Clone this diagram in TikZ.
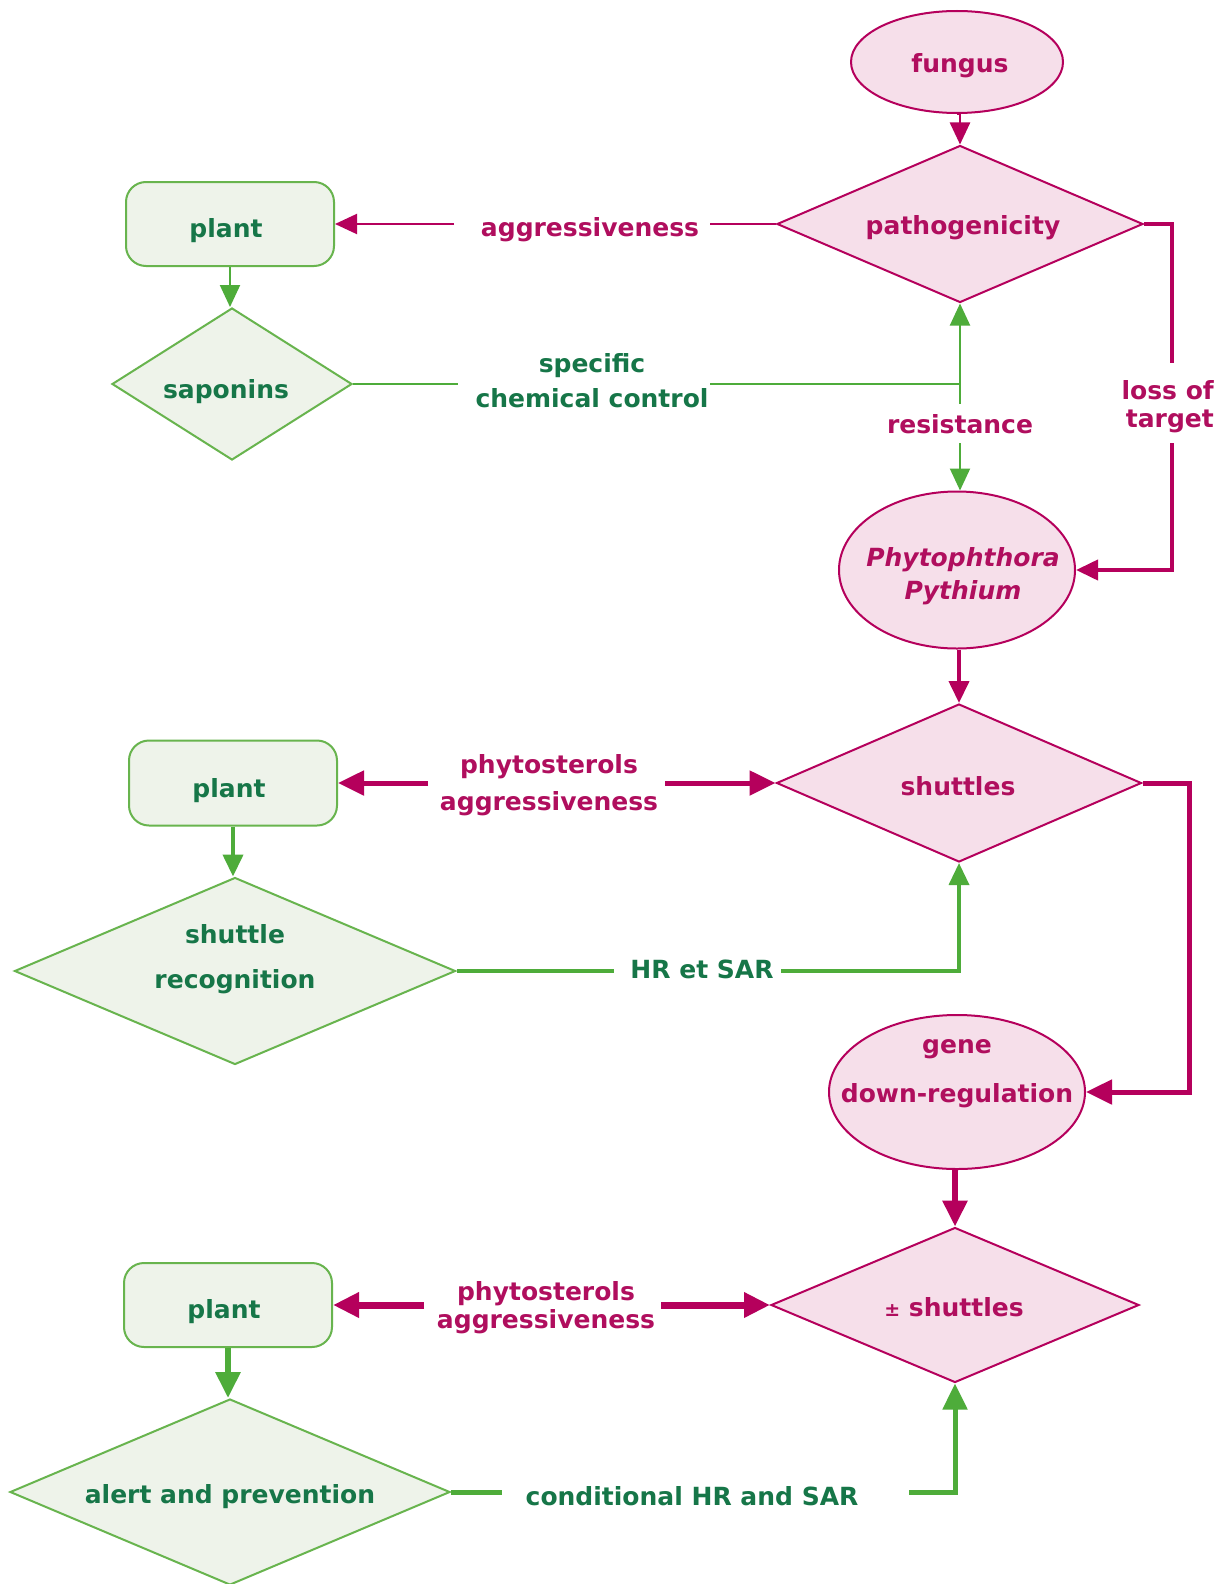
\documentclass[tikz,border=0pt]{standalone}
\usepackage{fontspec}
\setmainfont{DejaVu Sans}
\usetikzlibrary{shapes.geometric,arrows.meta}
\definecolor{magline}{RGB}{181,0,92}
\definecolor{magtext}{RGB}{176,14,94}
\definecolor{pinkfill}{RGB}{246,223,234}
\definecolor{grline}{RGB}{78,172,58}
\definecolor{grborder}{RGB}{104,180,78}
\definecolor{grfill}{RGB}{238,243,234}
\definecolor{grtext}{RGB}{22,118,72}
\newcommand{\tstrut}{\rule[-6pt]{0pt}{25pt}}
\tikzset{
  mshape/.style={draw=magline, fill=pinkfill, line width=2pt, inner sep=0pt},
  gshape/.style={draw=grborder, fill=grfill, line width=2pt, inner sep=0pt},
  mell/.style={mshape, ellipse},
  mdia/.style={mshape, diamond},
  gdia/.style={gshape, diamond},
  gbox/.style={gshape, rectangle, rounded corners=20pt, minimum width=208pt, minimum height=84pt},
  mtxt/.style={text=magtext, inner sep=0pt, align=center},
  gtxt/.style={text=grtext, inner sep=0pt, align=center},
  mline/.style={draw=magline},
  gline/.style={draw=grline},
  marr/.style={mline, -{Triangle[length=22pt,width=20pt]}},
  garr/.style={gline, -{Triangle[length=22pt,width=20pt]}},
  bigmarr/.style={mline, -{Triangle[length=26pt,width=24pt]}},
  biggarr/.style={gline, -{Triangle[length=26pt,width=24pt]}},
}
\begin{document}
\begin{tikzpicture}[x=1pt,y=-1pt, font=\bfseries\fontsize{25}{30}\selectfont]
\useasboundingbox[fill=white] (0,0) rectangle (1231,1584);
% ---------- shapes ----------
\node[mell, minimum width=212pt, minimum height=102pt] (fungus) at (957,62) {};
\node[mdia, minimum width=366pt, minimum height=157pt] (patho) at (960,224) {};
\node[gbox] (plant1) at (230,224) {};
\node[gdia, minimum width=240pt, minimum height=152pt] (sapo) at (232,384) {};
\node[mell, minimum width=236pt, minimum height=157pt] (phyto) at (957,570) {};
\node[mdia, minimum width=365pt, minimum height=158pt] (shut) at (959,783) {};
\node[gbox, minimum height=85pt] (plant2) at (233,783) {};
\node[gdia, minimum width=441pt, minimum height=187pt] (recog) at (235,971) {};
\node[mell, minimum width=256pt, minimum height=154pt] (gene) at (957,1092) {};
\node[mdia, minimum width=368pt, minimum height=155pt] (pm) at (955,1305) {};
\node[gbox] (plant3) at (228,1305) {};
\node[gdia, minimum width=440pt, minimum height=186pt] (alert) at (230,1492) {};
% ---------- texts ----------
\node[mtxt, anchor=base] (fungusT) at (960,73) {fungus};
\node[mtxt, anchor=base] (pathoT) at (963,234) {pathogenicity};
\node[gtxt, anchor=base] (plant1T) at (226,237) {plant};
\node[mtxt, anchor=base] (aggT) at (590,236) {aggressiveness};
\node[gtxt, anchor=base] (sapoT) at (226,398) {saponins};
\node[gtxt, anchor=north, font=\bfseries\fontsize{25}{35}\selectfont] (specT) at (592,353) {\tstrut specific\\\tstrut chemical control};
\node[mtxt, anchor=base] (resT) at (960,433) {resistance};
\node[mtxt, anchor=north east, align=right, font=\bfseries\fontsize{25}{28}\selectfont] (lossT) at (1214,380) {\tstrut loss of\\\tstrut target};
\node[mtxt, anchor=north, font=\bfseries\itshape\fontsize{25}{33}\selectfont] (phytoT) at (963,547) {\tstrut Phytophthora\\\tstrut Pythium};
\node[mtxt, anchor=base] (shutT) at (958,795) {shuttles};
\node[gtxt, anchor=base] (plant2T) at (229,797) {plant};
\node[mtxt, anchor=north, font=\bfseries\fontsize{25}{37}\selectfont] (phy2T) at (549,754) {\tstrut phytosterols\\\tstrut aggressiveness};
\node[gtxt, anchor=north, font=\bfseries\fontsize{25}{45}\selectfont] (recogT) at (235,924) {\tstrut shuttle\\\tstrut recognition};
\node[gtxt, anchor=base] (hrT) at (702,978) {HR et SAR};
\node[mtxt, anchor=north, font=\bfseries\fontsize{25}{49}\selectfont] (geneT) at (957,1034) {\tstrut gene\\\tstrut down-regulation};
\node[gtxt, anchor=base] (plant3T) at (224,1318) {plant};
\node[mtxt, anchor=north, font=\bfseries\fontsize{25}{28}\selectfont] (phy3T) at (546,1281) {\tstrut phytosterols\\\tstrut aggressiveness};
\node[mtxt, anchor=base] (pmT) at (954,1316) {{\fontsize{19}{20}\selectfont ±} shuttles};
\node[gtxt, anchor=base] (alertT) at (230,1503) {alert and prevention};
\node[gtxt, anchor=base] (condT) at (692,1505) {conditional HR and SAR};
% ---------- free ends ----------
\coordinate (a1) at (710,224);
\coordinate (a2) at (454,224);
\coordinate (s1) at (458,384);
\coordinate (s2) at (710,384);
\coordinate (j) at (960,384);
\coordinate (r1) at (960,404);
\coordinate (r2) at (960,443);
\coordinate (l1) at (1172,363);
\coordinate (l2) at (1172,443);
\coordinate (m1) at (428,783);
\coordinate (m2) at (665,783);
\coordinate (h1) at (614,971);
\coordinate (h2) at (781,971);
\coordinate (k1) at (1189,783);
\coordinate (b1) at (424,1305);
\coordinate (b2) at (661,1305);
\coordinate (c1) at (502,1492);
\coordinate (c2) at (909,1492);
% ---------- connectors: top ----------
\draw[marr, line width=2.5pt] (fungus.south) -- (fungus.south -| patho.north) -- (patho.north);
\draw[mline, line width=2pt] (patho.west) -- (a1);
\draw[marr, line width=2pt] (a2) -- (plant1.east);
\draw[garr, line width=2pt] (plant1.south) -- (plant1.south |- sapo.north);
\draw[gline, line width=2pt] (sapo.east) -- (s1);
\draw[gline, line width=2pt] (s2) -- (j);
\draw[garr, line width=2pt] (j) -- (patho.south);
\draw[gline, line width=2pt] (j) -- (r1);
\draw[garr, line width=2pt] (r2) -- (r2 |- phyto.north);
\draw[mline, line width=4pt] (patho.east) -| (l1);
\draw[marr, line width=4pt] (l2) |- (phyto.east);
% ---------- connectors: middle ----------
\draw[marr, line width=4pt] (phyto.south -| shut.north) -- (shut.north);
\draw[bigmarr, line width=5pt] (m1) -- (plant2.east);
\draw[bigmarr, line width=5pt] (m2) -- (shut.west);
\draw[garr, line width=4pt] (plant2.south) -- (plant2.south |- recog.north);
\draw[gline, line width=3.5pt] (recog.east) -- (h1);
\draw[garr, line width=3.5pt] (h2) -| (shut.south);
\draw[bigmarr, line width=5pt] (shut.east) -- (k1) |- (gene.east);
% ---------- connectors: bottom ----------
\draw[bigmarr, line width=6pt] (gene.south -| pm.north) -- (pm.north);
\draw[bigmarr, line width=7pt] (b1) -- (plant3.east);
\draw[bigmarr, line width=7pt] (b2) -- (pm.west);
\draw[biggarr, line width=6pt] (plant3.south) -- (plant3.south |- alert.north);
\draw[gline, line width=5pt] (alert.east) -- (c1);
\draw[biggarr, line width=5pt] (c2) -| (pm.south);
\end{tikzpicture}
\end{document}
